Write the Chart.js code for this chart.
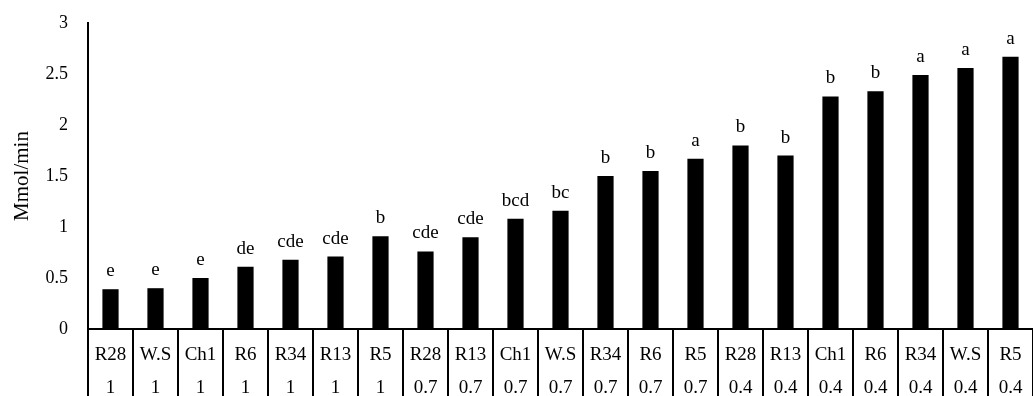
<!DOCTYPE html>
<html>
<head>
<meta charset="utf-8">
<script src="https://cdn.jsdelivr.net/npm/chart.js@4/dist/chart.umd.min.js"></script>
<style>
  html, body { margin: 0; padding: 0; background: #fff; }
  #wrap { width: 1033px; height: 396px; }
</style>
</head>
<body>
<div id="wrap"><canvas id="chart"></canvas></div>
<script>
const strains = ['R28', 'W.S', 'Ch1', 'R6', 'R34', 'R13', 'R5',
  'R28', 'R13', 'Ch1', 'W.S', 'R34', 'R6', 'R5',
  'R28', 'R13', 'Ch1', 'R6', 'R34', 'W.S', 'R5'];
const doses = ['1', '1', '1', '1', '1', '1', '1',
  '0.7', '0.7', '0.7', '0.7', '0.7', '0.7', '0.7',
  '0.4', '0.4', '0.4', '0.4', '0.4', '0.4', '0.4'];
const values = [0.39, 0.40, 0.50, 0.61, 0.68, 0.71, 0.91,
  0.76, 0.90, 1.08, 1.16, 1.50, 1.55, 1.67,
  1.80, 1.70, 2.28, 2.33, 2.49, 2.56, 2.67];
const letters = ['e', 'e', 'e', 'de', 'cde', 'cde', 'b',
  'cde', 'cde', 'bcd', 'bc', 'b', 'b', 'a',
  'b', 'b', 'b', 'b', 'a', 'a', 'a'];

const serif = '"Liberation Serif", "Times New Roman", serif';

// letters drawn above each bar
const letterPlugin = {
  id: 'letters',
  afterDatasetsDraw(chart) {
    const ctx = chart.ctx;
    const meta = chart.getDatasetMeta(0);
    ctx.save();
    ctx.fillStyle = '#000';
    ctx.font = '19px ' + serif;
    ctx.textAlign = 'center';
    ctx.textBaseline = 'middle';
    meta.data.forEach((bar, i) => {
      ctx.fillText(letters[i], bar.x, bar.y - 18);
    });
    ctx.restore();
  },
};

new Chart(document.getElementById('chart'), {
  type: 'bar',
  data: {
    labels: strains.map((s, i) => [s, doses[i]]),
    datasets: [{
      data: values,
      backgroundColor: '#000',
      barPercentage: 0.36,
      categoryPercentage: 1,
    }],
  },
  options: {
    responsive: true,
    maintainAspectRatio: false,
    animation: false,
    layout: { padding: { top: 23, right: 0, left: 0, bottom: 0 } },
    plugins: {
      legend: { display: false },
      tooltip: { enabled: false },
    },
    scales: {
      x: {
        afterFit(scale) { scale.height = 67; },
        grid: {
          offset: true,
          drawOnChartArea: false,
          drawTicks: true,
          tickLength: 67,
          color: '#000',
          lineWidth: 2,
        },
        border: { display: true, color: '#000', width: 2 },
        ticks: {
          color: '#000',
          autoSkip: false,
          maxRotation: 0,
          padding: -57,
          font: { family: serif, size: 19, lineHeight: 1.72 },
        },
      },
      y: {
        min: 0,
        max: 3,
        afterFit(scale) { scale.width = 88; },
        grid: {
          drawOnChartArea: false,
          drawTicks: true,
          tickLength: 20,
          tickColor: 'rgba(0,0,0,0)',
        },
        border: { display: true, color: '#000', width: 2 },
        ticks: {
          stepSize: 0.5,
          color: '#000',
          padding: 0,
          font: { family: serif, size: 18 },
          callback: (v) => String(v),
        },
        title: {
          display: true,
          text: 'Mmol/min',
          color: '#000',
          padding: { top: 10, bottom: 0 },
          font: { family: serif, size: 21 },
        },
      },
    },
  },
  plugins: [letterPlugin],
});
</script>
</body>
</html>
